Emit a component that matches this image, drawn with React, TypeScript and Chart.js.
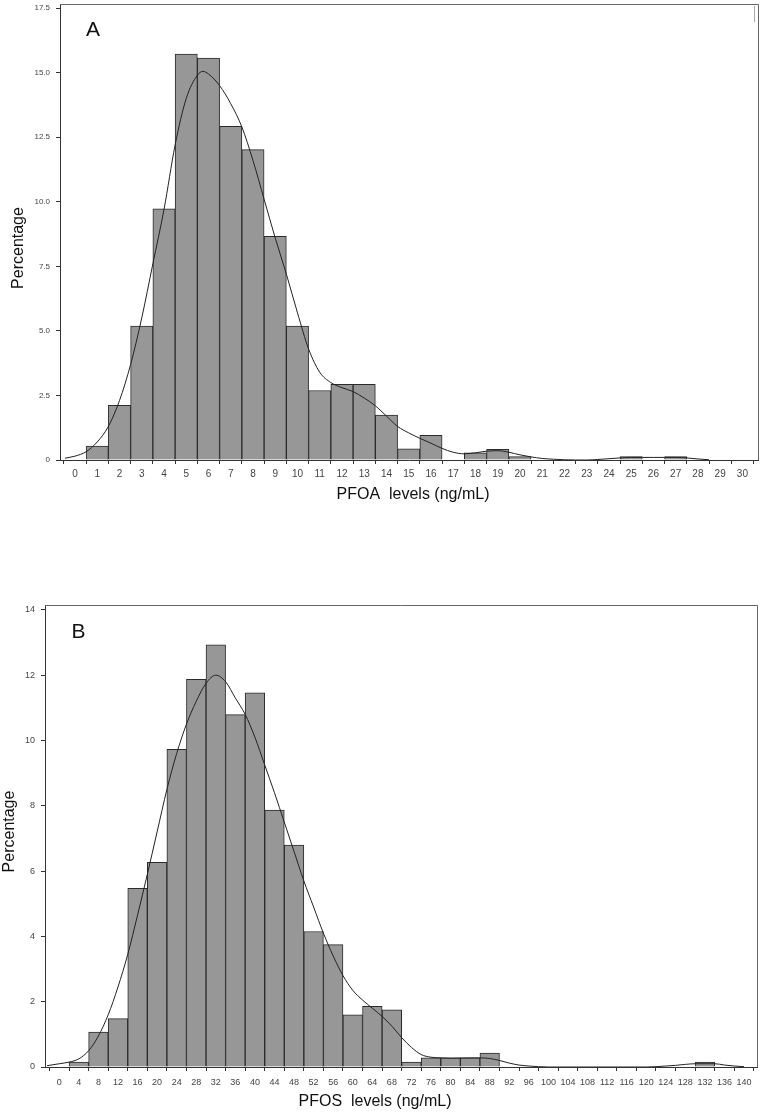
import React, { useEffect, useRef } from 'react';
import Chart from 'chart.js/auto';

// ---------- Panel A: PFOA ----------
const pfoaBinCenters = [0, 1, 2, 3, 4, 5, 6, 7, 8, 9, 10, 11, 12, 13, 14, 15, 16, 17, 18, 19, 20, 21, 22, 23, 24, 25, 26, 27, 28, 29, 30];
const pfoaPercent = [0, 0.54, 2.12, 5.19, 9.73, 15.72, 15.57, 12.92, 12.02, 8.66, 5.19, 2.69, 2.93, 2.93, 1.74, 0.43, 0.96, 0, 0.28, 0.41, 0.13, 0, 0, 0, 0, 0.13, 0, 0.13, 0, 0, 0];
const pfoaCurveX = [-0.45, 0, 0.5, 1, 1.5, 2, 2.5, 3, 3.5, 4, 4.5, 5, 5.5, 5.75, 6, 6.5, 7, 7.5, 8, 8.5, 9, 9.5, 10, 10.5, 11, 11.5, 12, 12.5, 13, 13.5, 14, 14.5, 15, 15.5, 16, 16.5, 17, 17.5, 18, 18.5, 19, 19.5, 20, 20.5, 21, 21.5, 22, 22.5, 23, 23.5, 24, 24.5, 25, 25.5, 26, 26.5, 27, 27.5, 28, 28.5];
const pfoaCurveY = [0.07, 0.15, 0.32, 0.7, 1.3, 2.3, 3.7, 5.5, 7.6, 9.7, 12.2, 14.0, 14.9, 15.05, 14.95, 14.5, 13.8, 12.9, 11.6, 10.1, 8.6, 7.2, 5.7, 4.3, 3.4, 3.0, 2.8, 2.65, 2.4, 2.1, 1.7, 1.3, 1.05, 0.84, 0.65, 0.45, 0.3, 0.24, 0.28, 0.34, 0.36, 0.3, 0.2, 0.12, 0.06, 0.03, 0.01, 0, 0, 0.02, 0.05, 0.08, 0.1, 0.1, 0.1, 0.1, 0.1, 0.08, 0.04, 0.01];
const pfoaXTicks = [0, 1, 2, 3, 4, 5, 6, 7, 8, 9, 10, 11, 12, 13, 14, 15, 16, 17, 18, 19, 20, 21, 22, 23, 24, 25, 26, 27, 28, 29, 30];
const pfoaYTicks = [0, 2.5, 5, 7.5, 10, 12.5, 15, 17.5];
const pfoaYTickLabels = ['0', '2.5', '5.0', '7.5', '10.0', '12.5', '15.0', '17.5'];

// ---------- Panel B: PFOS ----------
const pfosBinCenters = [0, 4, 8, 12, 16, 20, 24, 28, 32, 36, 40, 44, 48, 52, 56, 60, 64, 68, 72, 76, 80, 84, 88, 92, 96, 100, 104, 108, 112, 116, 120, 124, 128, 132, 136, 140];
const pfosPercent = [0, 0.15, 1.07, 1.48, 5.47, 6.27, 9.73, 11.87, 12.93, 10.79, 11.46, 7.87, 6.8, 4.15, 3.75, 1.6, 1.86, 1.75, 0.15, 0.28, 0.28, 0.28, 0.43, 0, 0, 0, 0, 0, 0, 0, 0, 0, 0, 0.15, 0, 0];
const pfosCurveX = [-2.5, 0, 2, 4, 6, 8, 10, 12, 14, 16, 18, 20, 22, 24, 26, 28, 30, 32, 34, 36, 38, 40, 42, 44, 46, 48, 50, 52, 54, 56, 58, 60, 62, 64, 66, 68, 70, 72, 74, 76, 78, 80, 84, 86, 88, 90, 92, 94, 96, 98, 100, 120, 122, 124, 126, 128, 130, 132, 134, 136, 138, 140];
const pfosCurveY = [0.04, 0.1, 0.15, 0.25, 0.5, 0.95, 1.6, 2.45, 3.45, 4.65, 5.9, 7.2, 8.5, 9.6, 10.5, 11.2, 11.75, 12.0, 11.8, 11.3, 10.8, 10.1, 9.25, 8.4, 7.5, 6.6, 5.7, 4.9, 4.1, 3.4, 2.8, 2.35, 2.05, 1.8, 1.55, 1.25, 0.9, 0.6, 0.38, 0.3, 0.28, 0.27, 0.28, 0.28, 0.26, 0.2, 0.12, 0.06, 0.03, 0.01, 0, 0, 0.01, 0.03, 0.05, 0.08, 0.1, 0.1, 0.1, 0.06, 0.03, 0.01];
const pfosXTicks = [0, 4, 8, 12, 16, 20, 24, 28, 32, 36, 40, 44, 48, 52, 56, 60, 64, 68, 72, 76, 80, 84, 88, 92, 96, 100, 104, 108, 112, 116, 120, 124, 128, 132, 136, 140];
const pfosYTicks = [0, 2, 4, 6, 8, 10, 12, 14];
const pfosYTickLabels = ['0', '2', '4', '6', '8', '10', '12', '14'];

Chart.defaults.font.family = '"Liberation Sans", Arial, Helvetica, sans-serif';

const decoPlugin = {
  id: 'panelDeco',
  afterDraw(chart: any, _args: any, opts: any) {
    const { ctx, chartArea: a } = chart;
    ctx.save();
    // top & right frame
    ctx.strokeStyle = '#666';
    ctx.lineWidth = 1;
    ctx.beginPath();
    ctx.moveTo(Math.round(a.left), Math.round(a.top) + 0.5);
    ctx.lineTo(Math.round(a.right) + 0.5, Math.round(a.top) + 0.5);
    ctx.lineTo(Math.round(a.right) + 0.5, Math.round(a.bottom));
    ctx.stroke();
    if (opts.mark) {
      ctx.strokeStyle = '#aaa';
      ctx.beginPath();
      ctx.moveTo(opts.mark[0] + 0.5, opts.mark[1]);
      ctx.lineTo(opts.mark[0] + 0.5, opts.mark[2]);
      ctx.stroke();
    }
    ctx.fillStyle = '#111';
    ctx.textAlign = 'center';
    ctx.textBaseline = 'middle';
    // panel letter
    ctx.font = '21px "Liberation Sans", Arial, sans-serif';
    ctx.fillText(opts.letter, opts.letterX, opts.letterY);
    // x title
    ctx.font = '16px "Liberation Sans", Arial, sans-serif';
    ctx.fillText(opts.xTitle, opts.xTitleX, opts.xTitleY);
    // y title
    ctx.translate(opts.yTitleX, opts.yTitleY);
    ctx.rotate(-Math.PI / 2);
    ctx.fillText(opts.yTitle, 0, 0);
    ctx.restore();
  },
};

type PanelProps = {
  top: number;
  height: number;
  binCenters: number[];
  percent: number[];
  curveX: number[];
  curveY: number[];
  xTicks: number[];
  yTicks: number[];
  yTickLabels: string[];
  xMin: number;
  xMax: number;
  yMax: number;
  padTop: number;
  padRight: number;
  yAxisWidth: number;
  xAxisHeight: number;
  xTickFont: number;
  yTickFont: number;
  xTickPad: number;
  deco: any;
};

function Panel(p: PanelProps) {
  const ref = useRef<HTMLCanvasElement | null>(null);
  useEffect(() => {
    if (!ref.current) return;
    const bars = p.binCenters.map((x, i) => ({ x, y: p.percent[i] }));
    const curve = p.curveX.map((x, i) => ({ x, y: p.curveY[i] }));
    const chart = new Chart(ref.current, {
      type: 'bar',
      data: {
        datasets: [
          {
            type: 'line',
            data: curve,
            borderColor: '#222',
            borderWidth: 1,
            pointRadius: 0,
            fill: false,
            cubicInterpolationMode: 'monotone',
            order: 0,
          } as any,
          {
            type: 'bar',
            data: bars,
            backgroundColor: '#979797',
            borderColor: '#2b2b2b',
            borderWidth: 1,
            barPercentage: 1,
            categoryPercentage: 1,
            order: 1,
          } as any,
        ],
      },
      options: {
        animation: false,
        responsive: false,
        maintainAspectRatio: false,
        devicePixelRatio: 1,
        layout: { padding: { top: p.padTop, right: p.padRight, left: 0, bottom: 0 } },
        plugins: {
          legend: { display: false },
          tooltip: { enabled: false },
          panelDeco: p.deco,
        } as any,
        scales: {
          x: {
            type: 'linear',
            min: p.xMin,
            max: p.xMax,
            offset: false,
            grid: { drawOnChartArea: false, drawTicks: true, tickLength: 4, color: '#333', lineWidth: 1 },
            border: { display: true, color: '#333', width: 1 },
            ticks: {
              autoSkip: false,
              maxRotation: 0,
              minRotation: 0,
              padding: p.xTickPad,
              color: '#444',
              font: { size: p.xTickFont },
              callback: (_v: any, i: number) => String(p.xTicks[i]),
            },
            afterBuildTicks: (s: any) => {
              s.ticks = p.xTicks.map((v) => ({ value: v }));
            },
            afterFit: (s: any) => {
              s.height = p.xAxisHeight;
              s.paddingLeft = 0;
              s.paddingRight = 0;
            },
          } as any,
          y: {
            type: 'linear',
            min: 0,
            max: p.yMax,
            grid: { drawOnChartArea: false, drawTicks: true, tickLength: 4, color: '#333', lineWidth: 1 },
            border: { display: true, color: '#333', width: 1 },
            ticks: {
              padding: 6,
              color: '#444',
              font: { size: p.yTickFont },
              callback: (_v: any, i: number) => p.yTickLabels[i],
            },
            afterBuildTicks: (s: any) => {
              s.ticks = p.yTicks.map((v) => ({ value: v }));
            },
            afterFit: (s: any) => {
              s.width = p.yAxisWidth;
              s.paddingTop = 0;
              s.paddingBottom = 0;
            },
          } as any,
        },
      },
      plugins: [decoPlugin as any],
    });
    return () => chart.destroy();
  }, []);
  return (
    <canvas
      ref={ref}
      width={762}
      height={p.height}
      style={{ position: 'absolute', left: 0, top: p.top, width: 762, height: p.height }}
    />
  );
}

export default function App() {
  return (
    <div style={{ position: 'absolute', left: 0, top: 0, width: 762, height: 1116, background: '#fff' }}>
      <Panel
        top={0}
        height={520}
        binCenters={pfoaBinCenters}
        percent={pfoaPercent}
        curveX={pfoaCurveX}
        curveY={pfoaCurveY}
        xTicks={pfoaXTicks}
        yTicks={pfoaYTicks}
        yTickLabels={pfoaYTickLabels}
        xMin={-0.674}
        xMax={30.7}
        yMax={17.66}
        padTop={4}
        padRight={4}
        yAxisWidth={60}
        xAxisHeight={60}
        xTickFont={10}
        yTickFont={8}
        xTickPad={4}
        deco={{
          letter: 'A', letterX: 93, letterY: 30,
          xTitle: 'PFOA  levels (ng/mL)', xTitleX: 413, xTitleY: 495,
          yTitle: 'Percentage', yTitleX: 18.5, yTitleY: 248,
          mark: [754, 6, 22],
        }}
      />
      <Panel
        top={540}
        height={576}
        binCenters={pfosBinCenters}
        percent={pfosPercent}
        curveX={pfosCurveX}
        curveY={pfosCurveY}
        xTicks={pfosXTicks}
        yTicks={pfosYTicks}
        yTickLabels={pfosYTickLabels}
        xMin={-2.92}
        xMax={142.65}
        yMax={14.15}
        padTop={65}
        padRight={5}
        yAxisWidth={45}
        xAxisHeight={49}
        xTickFont={9}
        yTickFont={9}
        xTickPad={6}
        deco={{
          letter: 'B', letterX: 78.5, letterY: 92.5,
          xTitle: 'PFOS  levels (ng/mL)', xTitleX: 375, xTitleY: 562,
          yTitle: 'Percentage', yTitleX: 9.5, yTitleY: 291.5,
        }}
      />
    </div>
  );
}
